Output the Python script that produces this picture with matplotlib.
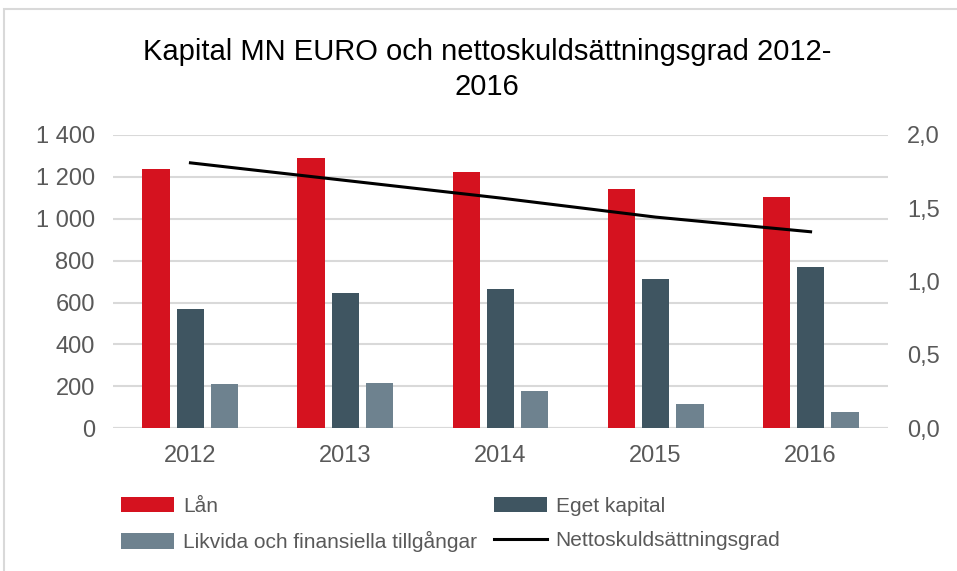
import matplotlib.pyplot as plt
import numpy as np
from matplotlib.patches import Rectangle

plt.rcParams['font.family'] = ['Liberation Sans', 'DejaVu Sans']

years = ['2012', '2013', '2014', '2015', '2016']
lan = [1240, 1292, 1223, 1142, 1106]
eget_kapital = [569, 644, 665, 711, 768]
likvida = [213, 218, 177, 118, 76]
nettoskuld = [1.81, 1.69, 1.57, 1.44, 1.34]

red = '#d5121f'
dark = '#3f5561'
light = '#6e828f'
gray = '#595959'

fig = plt.figure(figsize=(9.57, 5.71), dpi=100)
fig.add_artist(Rectangle((4 / 957, -0.1), 1.2, 1.1 - 9 / 571, transform=fig.transFigure,
                         fill=False, edgecolor='#d9d9d9', lw=1.5))

ax = fig.add_axes([0.118, 0.250, 0.810, 0.5136])
x = np.arange(len(years))
w = 0.175
b1 = ax.bar(x - 0.222, lan, w, color=red, label='Lån', zorder=3)
b2 = ax.bar(x, eget_kapital, w, color=dark, label='Eget kapital', zorder=3)
b3 = ax.bar(x + 0.222, likvida, w, color=light, label='Likvida och finansiella tillgångar', zorder=3)

ax.set_xlim(-0.5, len(years) - 0.5)
ax.set_ylim(0, 1400)
ax.set_yticks(range(0, 1401, 200))
ax.set_yticklabels([f'{v:,}'.replace(',', ' ') for v in range(0, 1401, 200)])
ax.set_xticks(x)
ax.set_xticklabels(years)
ax.yaxis.grid(True, color='#d9d9d9', lw=1.5, zorder=0)
for s in ax.spines.values():
    s.set_visible(False)
ax.tick_params(length=0, labelsize=17, colors=gray)
ax.tick_params(axis='x', pad=12)
ax.tick_params(axis='y', pad=13)
ax.axhline(0, color='#d9d9d9', lw=1.5, zorder=1)

ax2 = ax.twinx()
ln, = ax2.plot(x, nettoskuld, color='black', lw=2.2, label='Nettoskuldsättningsgrad', zorder=4)
ax2.set_ylim(0, 2.0)
ax2.set_yticks(np.arange(0, 2.01, 0.5))
ax2.set_yticklabels([f'{v:.1f}'.replace('.', ',') for v in np.arange(0, 2.01, 0.5)])
for s in ax2.spines.values():
    s.set_visible(False)
ax2.tick_params(length=0, labelsize=17, colors=gray, pad=13.7)

fig.suptitle('Kapital MN EURO och nettoskuldsättningsgrad 2012-\n2016', x=0.509, y=0.934,
             fontsize=21, color='black', linespacing=1.32)

fig.legend([b1, b3, b2, ln],
           ['Lån', 'Likvida och finansiella tillgångar', 'Eget kapital', 'Nettoskuldsättningsgrad'],
           loc='upper left', bbox_to_anchor=(0.118, 0.144), ncol=2, frameon=False,
           borderaxespad=0, fontsize=15, labelcolor=gray, handlelength=2.53, handleheight=0.75,
           handletextpad=0.43, columnspacing=0.82, labelspacing=0.72)

fig.savefig('out.png', dpi=100)
